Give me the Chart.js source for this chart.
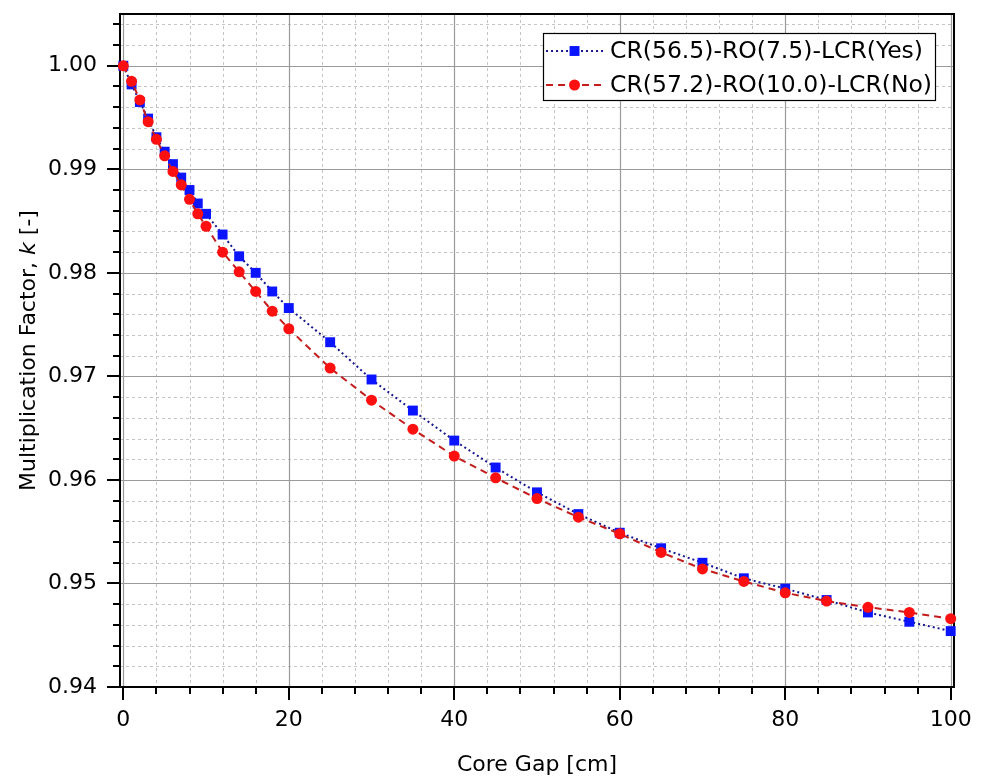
<!DOCTYPE html>
<html>
<head>
<meta charset="utf-8">
<script src="https://cdn.jsdelivr.net/npm/chart.js@4/dist/chart.umd.min.js"></script>
<style>
  html, body { margin: 0; padding: 0; background: #ffffff; }
  #wrap { width: 984px; height: 776px; position: relative; }
</style>
</head>
<body>
<div id="wrap"><canvas id="chart"></canvas></div>
<script>
// Core gap between the two cores [cm]
const gapCm = [0, 1, 2, 3, 4, 5, 6, 7, 8, 9, 10, 12, 14, 16, 18, 20,
               25, 30, 35, 40, 45, 50, 55, 60, 65, 70, 75, 80, 85, 90, 95, 100];

// Multiplication factor k, with local control rods
const kLcrYes = [1.0000, 0.9982, 0.9965, 0.9949, 0.9931, 0.9917, 0.9905, 0.9892,
                 0.9880, 0.9867, 0.9857, 0.9837, 0.9816, 0.9800, 0.9782, 0.9766,
                 0.9733, 0.9697, 0.9667, 0.9638, 0.9612, 0.9588, 0.9567, 0.9549,
                 0.9534, 0.9520, 0.9505, 0.9495, 0.9484, 0.9472, 0.9463, 0.9454];

// Multiplication factor k, without local control rods
const kLcrNo = [1.0000, 0.9985, 0.9967, 0.9946, 0.9929, 0.9913, 0.9898, 0.9885,
                0.9871, 0.9857, 0.9845, 0.9820, 0.9801, 0.9782, 0.9763, 0.9746,
                0.9708, 0.9677, 0.9649, 0.9623, 0.9602, 0.9582, 0.9564, 0.9548,
                0.9530, 0.9514, 0.9502, 0.9491, 0.9483, 0.9477, 0.9472, 0.9466];

const seriesLabels = ['CR(56.5)-RO(7.5)-LCR(Yes)', 'CR(57.2)-RO(10.0)-LCR(No)'];

// Axis ticks
const xMajorTicks = [0, 20, 40, 60, 80, 100];
const xMinorPerMajor = 5;
const yMajorTicks = [0.94, 0.95, 0.96, 0.97, 0.98, 0.99, 1.00];
const yMinorPerMajor = 5;
const yTickLabels = ['0.94', '0.95', '0.96', '0.97', '0.98', '0.99', '1.00'];

const xTitle = 'Core Gap [cm]';
const yTitleParts = [['Multiplication Factor, ', false], ['k', true], [' [-]', false]];

const FONT = 'DejaVu Sans';

// minor tick positions between (and beyond) the major ones, within the axis range
function minorValues(majors, perMajor, min, max) {
  const step = (majors[1] - majors[0]) / perMajor;
  const out = [];
  const first = majors[0] - Math.floor((majors[0] - min) / step) * step;
  for (let i = 0; ; i++) {
    const v = first + i * step;
    if (v > max + step * 1e-6) break;
    const isMajor = majors.some(m => Math.abs(m - v) < step * 1e-3);
    if (!isMajor && v >= min - step * 1e-6) out.push(v);
  }
  return out;
}

const crisp = (p) => Math.round(p) + 0.5;

// grid lines under the data
const gridPlugin = {
  id: 'gridPlugin',
  beforeDatasetsDraw(chart) {
    const { ctx, chartArea: a, scales: { x, y } } = chart;
    ctx.save();
    ctx.beginPath();
    ctx.rect(a.left, a.top, a.right - a.left, a.bottom - a.top);
    ctx.clip();

    // minor dashed lines
    ctx.strokeStyle = '#c4c4c4';
    ctx.lineWidth = 1;
    ctx.setLineDash([3, 3]);
    minorValues(xMajorTicks, xMinorPerMajor, x.min, x.max).forEach(v => {
      const px = crisp(x.getPixelForValue(v));
      ctx.beginPath(); ctx.moveTo(px, a.top); ctx.lineTo(px, a.bottom); ctx.stroke();
    });
    minorValues(yMajorTicks, yMinorPerMajor, y.min, y.max).forEach(v => {
      const py = crisp(y.getPixelForValue(v));
      ctx.beginPath(); ctx.moveTo(a.left, py); ctx.lineTo(a.right, py); ctx.stroke();
    });

    // major solid lines
    ctx.setLineDash([]);
    ctx.strokeStyle = '#9a9a9a';
    ctx.lineWidth = 1.2;
    xMajorTicks.forEach(v => {
      const px = crisp(x.getPixelForValue(v));
      ctx.beginPath(); ctx.moveTo(px, a.top); ctx.lineTo(px, a.bottom); ctx.stroke();
    });
    yMajorTicks.forEach(v => {
      const py = crisp(y.getPixelForValue(v));
      ctx.beginPath(); ctx.moveTo(a.left, py); ctx.lineTo(a.right, py); ctx.stroke();
    });
    ctx.restore();
  }
};

// frame and outward tick marks, drawn before the data so markers sit on top
const framePlugin = {
  id: 'framePlugin',
  beforeDatasetsDraw(chart) {
    const { ctx, chartArea: a, scales: { x, y } } = chart;
    ctx.save();
    ctx.strokeStyle = '#000';
    ctx.lineWidth = 2;
    const majorLen = 13, minorLen = 7;
    yMajorTicks.forEach(v => {
      const py = Math.round(y.getPixelForValue(v));
      ctx.beginPath(); ctx.moveTo(a.left, py); ctx.lineTo(a.left - majorLen, py); ctx.stroke();
    });
    minorValues(yMajorTicks, yMinorPerMajor, y.min, y.max).forEach(v => {
      const py = Math.round(y.getPixelForValue(v));
      ctx.beginPath(); ctx.moveTo(a.left, py); ctx.lineTo(a.left - minorLen, py); ctx.stroke();
    });
    xMajorTicks.forEach(v => {
      const px = Math.round(x.getPixelForValue(v));
      ctx.beginPath(); ctx.moveTo(px, a.bottom); ctx.lineTo(px, a.bottom + majorLen); ctx.stroke();
    });
    minorValues(xMajorTicks, xMinorPerMajor, x.min, x.max).forEach(v => {
      const px = Math.round(x.getPixelForValue(v));
      ctx.beginPath(); ctx.moveTo(px, a.bottom); ctx.lineTo(px, a.bottom + minorLen); ctx.stroke();
    });
    ctx.strokeRect(a.left, a.top, a.right - a.left, a.bottom - a.top);
    ctx.restore();
  }
};

// axis titles and legend box
const labelPlugin = {
  id: 'labelPlugin',
  afterDraw(chart) {
    const { ctx, chartArea: a } = chart;
    ctx.save();

    // x axis title
    ctx.fillStyle = '#000';
    ctx.font = `22px "${FONT}"`;
    ctx.textAlign = 'center';
    ctx.textBaseline = 'alphabetic';
    ctx.fillText(xTitle, (a.left + a.right) / 2, chart.height - 5);

    // y axis title, rotated, with italic symbol
    const fontFor = (it) => `${it ? 'italic ' : ''}22px "${FONT}"`;
    let total = 0;
    yTitleParts.forEach(([t, it]) => { ctx.font = fontFor(it); total += ctx.measureText(t).width; });
    ctx.translate(35, (a.top + a.bottom) / 2);
    ctx.rotate(-Math.PI / 2);
    ctx.textAlign = 'left';
    let cx = -total / 2;
    yTitleParts.forEach(([t, it]) => {
      ctx.font = fontFor(it);
      ctx.fillText(t, cx, 0);
      cx += ctx.measureText(t).width;
    });
    ctx.setTransform(1, 0, 0, 1, 0, 0);

    // legend
    const ds = chart.data.datasets;
    const legendFont = `23.5px "${FONT}"`;
    ctx.font = legendFont;
    const textW = Math.max(...ds.map(d => ctx.measureText(d.label).width));
    const pad = 3, sample = 57, gap = 7, rowH = 34;
    const boxW = pad + sample + gap + textW + pad;
    const boxH = rowH * ds.length - 1;
    const bx = a.right - 19 - boxW;
    const by = a.top + 19;
    ctx.fillStyle = '#fff';
    ctx.fillRect(bx, by, boxW, boxH);
    ctx.strokeStyle = '#000';
    ctx.lineWidth = 1.2;
    ctx.strokeRect(crisp(bx), crisp(by), Math.round(boxW), Math.round(boxH));
    ds.forEach((d, i) => {
      const ry = by + 18 + i * rowH;
      const x0 = bx + pad;
      ctx.setLineDash(d.borderDash || []);
      ctx.strokeStyle = d.borderColor;
      ctx.lineWidth = d.borderWidth;
      ctx.beginPath(); ctx.moveTo(x0, ry); ctx.lineTo(x0 + sample, ry); ctx.stroke();
      ctx.setLineDash([]);
      const mx = x0 + sample / 2;
      ctx.fillStyle = d.pointBackgroundColor;
      if (d.pointStyle === 'rect') {
        const s = d.pointRadius * Math.SQRT1_2;
        ctx.fillRect(mx - s, ry - s, 2 * s, 2 * s);
      } else {
        ctx.beginPath(); ctx.arc(mx, ry, d.pointRadius, 0, Math.PI * 2); ctx.fill();
      }
      ctx.fillStyle = '#000';
      ctx.font = legendFont;
      ctx.textAlign = 'left';
      ctx.textBaseline = 'middle';
      ctx.fillText(d.label, x0 + sample + gap, ry + 1);
    });
    ctx.restore();
  }
};

new Chart(document.getElementById('chart'), {
  type: 'line',
  data: {
    datasets: [
      {
        label: seriesLabels[0],
        data: gapCm.map((g, i) => ({ x: g, y: kLcrYes[i] })),
        borderColor: '#16168f',
        borderWidth: 2,
        borderDash: [2, 3],
        pointStyle: 'rect',
        pointRadius: 7,
        pointBackgroundColor: '#0a14ff',
        pointBorderColor: '#0a14ff',
        pointBorderWidth: 0,
        tension: 0,
        fill: false,
        clip: false,
        order: 2
      },
      {
        label: seriesLabels[1],
        data: gapCm.map((g, i) => ({ x: g, y: kLcrNo[i] })),
        borderColor: '#c41c1c',
        borderWidth: 2,
        borderDash: [7, 5],
        pointStyle: 'circle',
        pointRadius: 5.5,
        pointBackgroundColor: '#ff1010',
        pointBorderColor: '#ff1010',
        pointBorderWidth: 0,
        tension: 0,
        fill: false,
        clip: false,
        order: 1
      }
    ]
  },
  options: {
    responsive: true,
    maintainAspectRatio: false,
    animation: false,
    events: [],
    layout: { padding: { top: 14, right: 30, left: 0, bottom: 0 } },
    plugins: {
      legend: { display: false },
      title: { display: false },
      tooltip: { enabled: false }
    },
    scales: {
      x: {
        type: 'linear',
        min: -0.4,
        max: 100.4,
        grid: { display: false, drawTicks: false },
        border: { display: false },
        afterBuildTicks: (s) => { s.ticks = xMajorTicks.map(v => ({ value: v })); },
        afterFit: (s) => {
          s.height = 89;
          s.paddingLeft = 0; s.paddingRight = 0; s.paddingTop = 0; s.paddingBottom = 0;
        },
        ticks: {
          autoSkip: false,
          maxRotation: 0,
          padding: 20,
          color: '#000',
          font: { family: FONT, size: 22 },
          callback: (v) => String(v)
        }
      },
      y: {
        type: 'linear',
        min: 0.94,
        max: 1.005,
        grid: { display: false, drawTicks: false },
        border: { display: false },
        afterBuildTicks: (s) => { s.ticks = yMajorTicks.map(v => ({ value: v })); },
        afterFit: (s) => {
          s.width = 120;
          s.paddingLeft = 0; s.paddingRight = 0; s.paddingTop = 0; s.paddingBottom = 0;
        },
        ticks: {
          autoSkip: false,
          padding: 23,
          color: '#000',
          font: { family: FONT, size: 22 },
          callback: (v) => {
            const i = yMajorTicks.findIndex(m => Math.abs(m - v) < 1e-9);
            return i >= 0 ? yTickLabels[i] : '';
          }
        }
      }
    }
  },
  plugins: [gridPlugin, framePlugin, labelPlugin]
});
</script>
</body>
</html>
